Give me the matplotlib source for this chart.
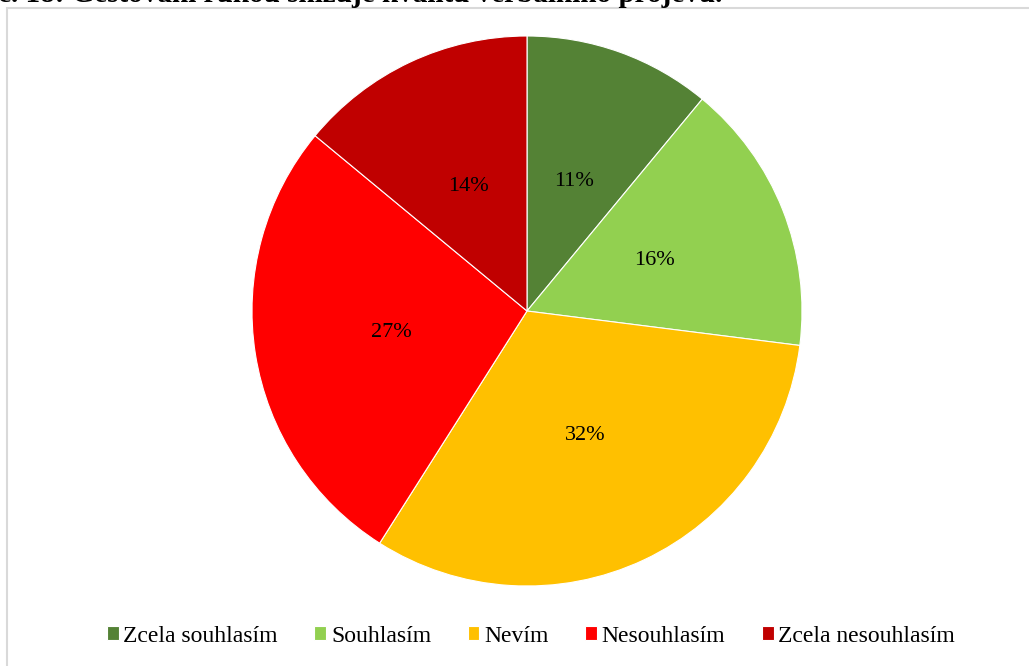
import matplotlib.pyplot as plt
from matplotlib.patches import Rectangle

plt.rcParams['font.family'] = ['Liberation Serif', 'DejaVu Serif']

labels = ['Zcela souhlasím', 'Souhlasím', 'Nevím', 'Nesouhlasím', 'Zcela nesouhlasím']
values = [11, 16, 32, 27, 14]
colors = ['#548235', '#92D050', '#FFC000', '#FF0000', '#C00000']

W, H = 1029, 666
fig = plt.figure(figsize=(W / 100, H / 100), dpi=100)

# caption line of the document, cut by the top edge
fig.text(-2 / W, 1 - 2 / H, 'č. 18: Gestování rukou snižuje kvalitu verbálního projevu.',
         fontsize=21, fontweight='bold', ha='left', va='baseline', color='black')

# light grey chart frame
fig.patches.append(Rectangle((7 / W, -0.05), 1.1, 1.05 - 8 / H, transform=fig.transFigure,
                             fill=False, edgecolor='#D9D9D9', linewidth=1.5))

cx, cy, r = 527, 311, 275
ax = fig.add_axes([(cx - r) / W, (H - cy - r) / H, 2 * r / W, 2 * r / H])
wedges, texts, autotexts = ax.pie(values, colors=colors, startangle=90, counterclock=False,
                                  autopct='%1.0f%%', pctdistance=0.5, radius=1,
                                  wedgeprops=dict(edgecolor='white', linewidth=0.8),
                                  textprops=dict(fontsize=16, color='black'))
ax.set_xlim(-1, 1)
ax.set_ylim(-1, 1)
ax.set_aspect('equal')

fig.legend(wedges, labels, loc='center', bbox_to_anchor=(531 / W, 30 / H), ncol=5,
           frameon=False, fontsize=17, handlelength=0.5, handleheight=0.5,
           handletextpad=0.2, columnspacing=1.55)

fig.savefig('out.png', dpi=100)
